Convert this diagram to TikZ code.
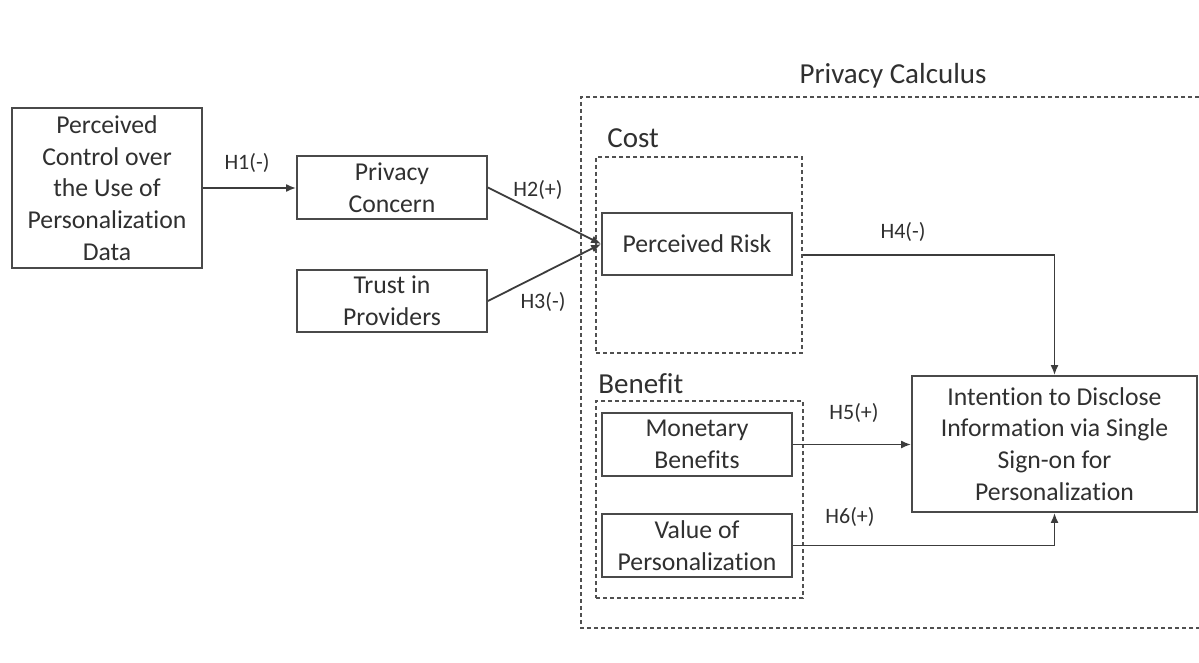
\documentclass[tikz,border=0pt]{standalone}
\usepackage{fontspec}
\setmainfont{Carlito}[Ligatures=NoCommon]
\usetikzlibrary{arrows.meta,calc}
\definecolor{txt}{HTML}{303030}
\definecolor{boxc}{HTML}{4A4A4A}
\definecolor{lnc}{HTML}{3C3C3C}
\definecolor{frc}{HTML}{505050}
\begin{document}
\begin{tikzpicture}[x=0.5pt,y=-0.5pt,
  box/.style={draw=boxc, line width=0.9pt, text=txt, align=center, inner sep=0pt,
    font=\fontsize{12.85}{15.85}\selectfont},
  frame/.style={draw=frc, line width=0.65pt, dash pattern=on 2pt off 1.5pt, inner sep=0pt},
  hyp/.style={text=txt, font=\fontsize{11}{13}\selectfont, inner sep=0pt},
  head/.style={text=txt, font=\fontsize{14.5}{17}\selectfont, inner sep=0pt},
  conn/.style={draw=lnc, line width=0.9pt, -{Latex[length=5pt,width=4pt]}}
]
\useasboundingbox[fill=white] (0,0) rectangle (1199,663);

% frames
\draw[frame] (1199,97) -- (581,97) -- (581,628) -- (1199,628);
\node[frame, minimum width=103pt, minimum height=98pt] (cost) at (699,255) {};
\node[frame, minimum width=103.5pt, minimum height=98.5pt] (benefit) at (699.5,499.5) {};

% headings
\node[head, anchor=base] (pcalc) at (893,84) {Privacy Calculus};
\node[head, anchor=base west] (costlbl) at (607,148) {Cost};
\node[head, anchor=base west] (benlbl) at (598,393) {Benefit};

% boxes
\node[box, minimum width=95pt, minimum height=80pt] (ctrl) at (107,188)
  {Perceived\\Control over\\the Use of\\Personalization\\Data};
\node[box, minimum width=95pt, minimum height=31.5pt] (pc) at (392,187.5)
  {Privacy\\Concern};
\node[box, minimum width=95pt, minimum height=31pt] (trust) at (392,301)
  {Trust in\\Providers};
\node[box, minimum width=95pt, minimum height=31pt] (risk) at (697,244)
  {Perceived Risk};
\node[box, minimum width=95pt, minimum height=31.5pt] (mon) at (697,444.5)
  {Monetary\\Benefits};
\node[box, minimum width=95pt, minimum height=31.5pt] (val) at (697,545.5)
  {Value of\\Personalization};
\node[box, minimum width=142.5pt, minimum height=68pt] (int) at (1054.5,444)
  {Intention to Disclose\\Information via Single\\Sign-on for\\Personalization};

% connectors
\draw[conn] (ctrl.east) -- (ctrl.east -| pc.west);
\draw[conn] (pc.east) -- (risk.west);
\draw[conn] (trust.east) -- (risk.west);
\draw[conn] (cost.east) -| (int.north);
\draw[conn] (mon.east) -- (mon.east -| int.west);
\draw[conn] (val.east) -| (int.south);

% hypothesis labels
\node[hyp] (h1) at (247,163) {H1(-)};
\node[hyp] (h2) at (538,190) {H2(+)};
\node[hyp] (h3) at (543,302) {H3(-)};
\node[hyp] (h4) at (903,232) {H4(-)};
\node[hyp] (h5) at (854,413) {H5(+)};
\node[hyp] (h6) at (850,517) {H6(+)};
\end{tikzpicture}
\end{document}
